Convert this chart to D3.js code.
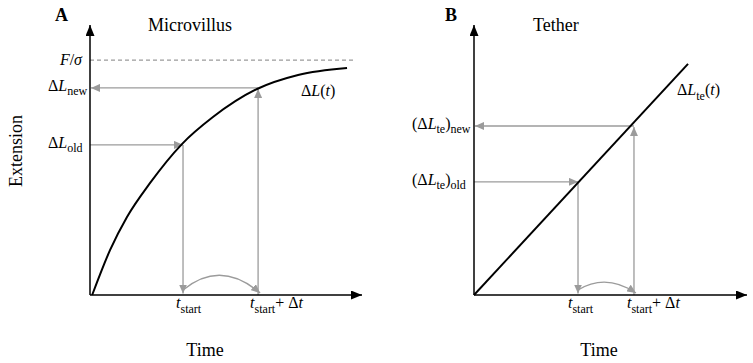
<!DOCTYPE html>
<html><head><meta charset="utf-8">
<script src="https://cdn.jsdelivr.net/npm/d3@7"></script>
<style>
body{margin:0;background:#fff}
text{font-family:"Liberation Serif","Times New Roman",serif;fill:#000}
</style>
</head><body>
<svg id="c" width="753" height="363"></svg>
<script>
// Panel A: microvillus extension curve (time, extension)
const curveTime = [0.08, 0.74, 1.36, 2.21, 3.38, 4.52, 6.14, 7.65, 9.45];
const curveExt  = [0.00, 1.67, 2.89, 4.15, 5.59, 6.59, 7.63, 8.15, 8.41];
const microTimes = [3.42, 6.18];   // t_start, t_start + Δt
const microExt   = [5.56, 7.67];   // ΔL_old, ΔL_new
const microLimit = [8.70, 9.67];   // F/σ level, dashed line end (time)
// Panel B: tether linear extension
const tetherTime = [0, 7.84];
const tetherExt  = [0, 8.56];
const tetherTimes = [3.81, 5.86];  // t_start, t_start + Δt
const tetherMarks = [4.19, 6.26];  // (ΔL_te)_old, (ΔL_te)_new

const GRAY = "#9b9b9b";
const svg = d3.select("#c");
const defs = svg.append("defs");
function marker(id, color, len, hw) {
  defs.append("marker").attr("id", id)
    .attr("viewBox", `0 ${-hw} ${len} ${2*hw}`)
    .attr("refX", len).attr("refY", 0)
    .attr("markerWidth", len).attr("markerHeight", 2*hw)
    .attr("markerUnits", "userSpaceOnUse").attr("orient", "auto")
    .append("path").attr("d", `M0,${-hw}L${len},0L0,${hw}Z`).attr("fill", color);
}
marker("ga", GRAY, 9, 4);
marker("ba", "#000", 11, 4.5);

function label(x, y, parts, opts = {}) {
  const t = svg.append("text").attr("x", x).attr("y", y)
    .attr("font-size", opts.size || 16)
    .attr("text-anchor", opts.anchor || "start");
  if (opts.bold) t.attr("font-weight", "bold");
  if (opts.transform) t.attr("transform", opts.transform);
  let shift = 0;
  parts.forEach(p => {
    const target = p.sub ? 4.5 : 0;
    const ts = t.append("tspan").text(p.t).attr("dy", target - shift);
    shift = target;
    if (p.sub) ts.attr("font-size", 12);
    if (p.i) ts.attr("font-style", "italic");
  });
  return t;
}

function axes(g, x, y) {
  g.append("line").attr("x1", x(0)).attr("y1", y(0)).attr("x2", x(0)).attr("y2", y(10))
    .attr("stroke", "#000").attr("stroke-width", 1.5).attr("marker-end", "url(#ba)");
  g.append("line").attr("x1", x(0)).attr("y1", y(0)).attr("x2", x(10)).attr("y2", y(0))
    .attr("stroke", "#000").attr("stroke-width", 1.5).attr("marker-end", "url(#ba)");
}
function garrow(g, x1, y1, x2, y2) {
  g.append("line").attr("x1", x1).attr("y1", y1).attr("x2", x2).attr("y2", y2)
    .attr("stroke", GRAY).attr("stroke-width", 1.3).attr("marker-end", "url(#ga)");
}
function guides(g, x, y, times, levels, arcLift) {
  const [t0, t1] = times, [l0, l1] = levels;
  garrow(g, x(0), y(l0), x(t0), y(l0));
  garrow(g, x(t0), y(l0), x(t0), y(0) - 1.5);
  garrow(g, x(t1), y(0), x(t1), y(l1) + 1);
  garrow(g, x(t1), y(l1), x(0) + 1, y(l1));
  const p = d3.path();
  p.moveTo(x(t0), y(0) - 5);
  p.quadraticCurveTo((x(t0) + x(t1)) / 2, y(0) - arcLift, x(t1) + 2, y(0) - 2);
  g.append("path").attr("d", p.toString()).attr("fill", "none")
    .attr("stroke", GRAY).attr("stroke-width", 1.3).attr("marker-end", "url(#ga)");
}

// ---------- Panel A ----------
{
  const x = d3.scaleLinear([0, 10], [90, 362]);
  const y = d3.scaleLinear([0, 10], [295, 25]);
  const g = svg.append("g");
  g.append("line").attr("x1", x(0)).attr("x2", x(microLimit[1]))
    .attr("y1", y(microLimit[0])).attr("y2", y(microLimit[0]))
    .attr("stroke", GRAY).attr("stroke-width", 1.2).attr("stroke-dasharray", "4,3");
  guides(g, x, y, microTimes, microExt, 36);
  const pts = curveTime.map((t, i) => [t, curveExt[i]]);
  g.append("path").datum(pts)
    .attr("d", d3.line().x(d => x(d[0])).y(d => y(d[1])).curve(d3.curveMonotoneX))
    .attr("fill", "none").attr("stroke", "#000").attr("stroke-width", 2);
  axes(g, x, y);

  label(55, 21, [{t: "A"}], {size: 18, bold: true});
  label(148, 31, [{t: "Microvillus"}], {size: 18});
  label(82, y(microLimit[0]) + 5, [{t: "F", i: true}, {t: "/"}, {t: "σ", i: true}], {anchor: "end"});
  label(48, y(microExt[1]) + 3, [{t: "Δ"}, {t: "L", i: true}, {t: "new", sub: true}]);
  label(48, y(microExt[0]) + 3, [{t: "Δ"}, {t: "L", i: true}, {t: "old", sub: true}]);
  label(301, 96, [{t: "Δ"}, {t: "L", i: true}, {t: "("}, {t: "t", i: true}, {t: ")"}]);
  label(x(microTimes[0]) - 7, 308, [{t: "t", i: true}, {t: "start", sub: true}]);
  label(x(microTimes[1]) - 8, 308, [{t: "t", i: true}, {t: "start", sub: true}, {t: "+ Δ"}, {t: "t", i: true}]);
  label(205, 356, [{t: "Time"}], {size: 18, anchor: "middle"});
  label(0, 0, [{t: "Extension"}], {size: 18, anchor: "middle", transform: "translate(22,151) rotate(-90)"});
}

// ---------- Panel B ----------
{
  const x = d3.scaleLinear([0, 10], [474, 747]);
  const y = d3.scaleLinear([0, 10], [295, 25]);
  const g = svg.append("g");
  guides(g, x, y, tetherTimes, tetherMarks, 22);
  const pts = tetherTime.map((t, i) => [t, tetherExt[i]]);
  g.append("path").datum(pts)
    .attr("d", d3.line().x(d => x(d[0])).y(d => y(d[1])))
    .attr("fill", "none").attr("stroke", "#000").attr("stroke-width", 2);
  axes(g, x, y);

  label(445, 21, [{t: "B"}], {size: 18, bold: true});
  label(533, 31, [{t: "Tether"}], {size: 18});
  label(677, 95, [{t: "Δ"}, {t: "L", i: true}, {t: "te", sub: true}, {t: "("}, {t: "t", i: true}, {t: ")"}]);
  label(412, y(tetherMarks[1]) + 3, [{t: "(Δ"}, {t: "L", i: true}, {t: "te", sub: true}, {t: ")"}, {t: "new", sub: true}]);
  label(412, y(tetherMarks[0]) + 3, [{t: "(Δ"}, {t: "L", i: true}, {t: "te", sub: true}, {t: ")"}, {t: "old", sub: true}]);
  label(x(tetherTimes[0]) - 10, 308, [{t: "t", i: true}, {t: "start", sub: true}]);
  label(x(tetherTimes[1]) - 7, 308, [{t: "t", i: true}, {t: "start", sub: true}, {t: "+ Δ"}, {t: "t", i: true}]);
  label(599, 356, [{t: "Time"}], {size: 18, anchor: "middle"});
}
</script>
</body></html>
